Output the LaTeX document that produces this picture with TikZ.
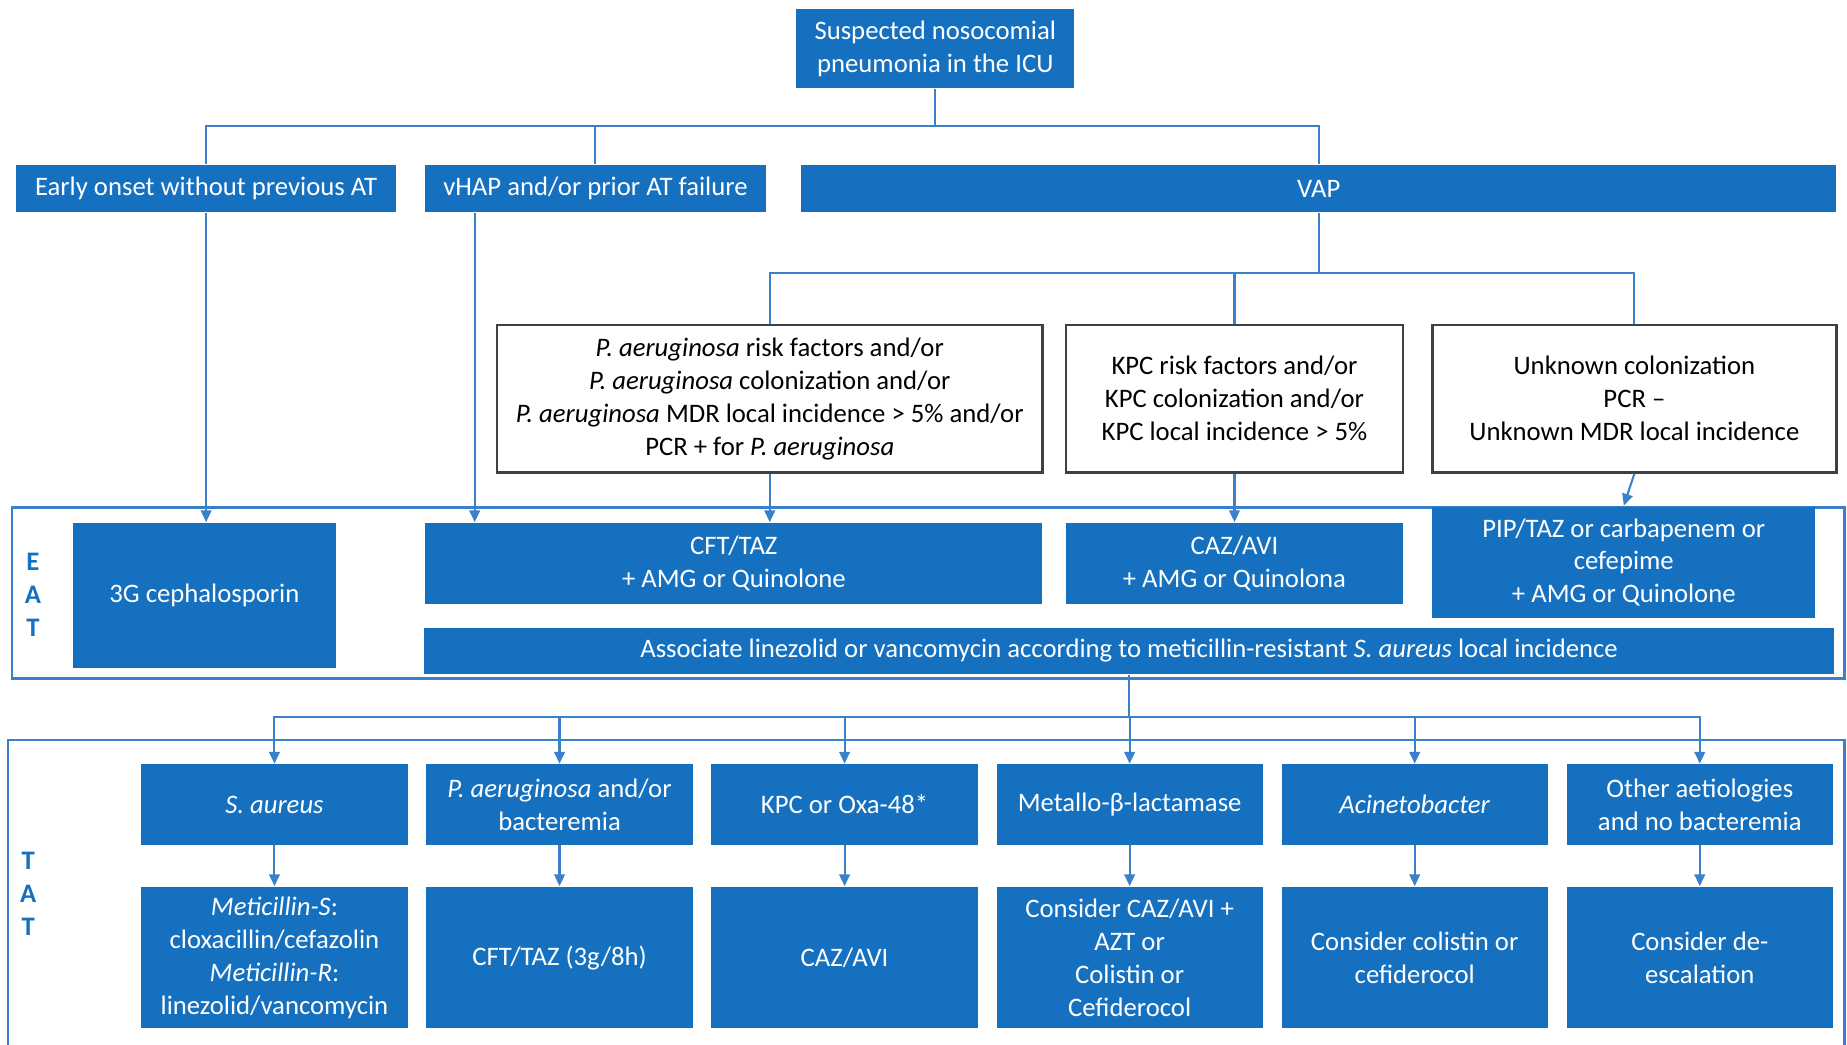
\documentclass[tikz,border=0pt]{standalone}
\usepackage{fontspec}
\setmainfont{Carlito}
\usepackage{tikz}
\usetikzlibrary{arrows.meta}
\definecolor{boxblue}{HTML}{1570BF}
\definecolor{lineblue}{HTML}{3A80CA}
\tikzset{>={Triangle[length=1.0mm,width=0.9mm]}}
\tikzset{%
    txt/.style={font=\fontsize{6.45}{7.95}\selectfont,align=center,inner sep=0pt},
    bluebox/.style={txt,fill=boxblue,text=white},
    whitebox/.style={txt,draw=black!75,line width=0.6pt,fill=white},
    conn/.style={draw=lineblue,line width=0.5pt},
    frame/.style={draw=lineblue,line width=0.6pt},
    sidelabel/.style={txt,text=boxblue,font=\fontsize{6.45}{7.95}\selectfont\bfseries},
    tatbox/.style={bluebox,minimum width=2.26cm,minimum height=0.68cm},
    tatres/.style={bluebox,minimum width=2.26cm,minimum height=1.20cm}
}

\begin{document}
\begin{tikzpicture}
    \fill[white] (0,0) rectangle (15.68,-8.87);
    \useasboundingbox (0,0) rectangle (15.68,-8.87);

    \draw[frame] (0.10,-4.31) rectangle (15.66,-5.76);
    \draw[frame] (0.07,-8.95) |- (15.66,-6.28) -- (15.66,-8.95);
    \node[sidelabel] (eat) at (0.28,-5.05) {E\\A\\T};
    \node[sidelabel] (tat) at (0.24,-7.59) {T\\A\\T};

    \node[bluebox,minimum width=2.36cm,minimum height=0.67cm] (top) at (7.94,-0.415) {Suspected nosocomial\\pneumonia in the ICU};
    \node[bluebox,minimum width=3.22cm,minimum height=0.40cm] (early) at (1.75,-1.60) {Early onset without previous AT};
    \node[bluebox,minimum width=2.89cm,minimum height=0.40cm] (vhap) at (5.055,-1.60) {vHAP and/or prior AT failure};
    \node[bluebox,minimum width=8.79cm,minimum height=0.40cm] (vap) at (11.195,-1.60) {VAP};

    \node[whitebox,minimum width=4.63cm,minimum height=1.25cm] (pa) at (6.535,-3.385) {\textit{P. aeruginosa} risk factors and/or\\\textit{P. aeruginosa} colonization and/or\\\textit{P. aeruginosa} MDR local incidence > 5\% and/or\\PCR + for \textit{P. aeruginosa}};
    \node[whitebox,minimum width=2.86cm,minimum height=1.25cm] (kpc) at (10.48,-3.385) {KPC risk factors and/or\\KPC colonization and/or\\KPC local incidence > 5\%};
    \node[whitebox,minimum width=3.43cm,minimum height=1.25cm] (unk) at (13.875,-3.385) {Unknown colonization\\PCR –\\Unknown MDR local incidence};

    \node[bluebox,minimum width=2.23cm,minimum height=1.23cm] (g3) at (1.735,-5.055) {3G cephalosporin};
    \node[bluebox,minimum width=5.24cm,minimum height=0.69cm] (cft) at (6.23,-4.785) {CFT/TAZ\\+ AMG or Quinolone};
    \node[bluebox,minimum width=2.86cm,minimum height=0.69cm] (caz) at (10.48,-4.785) {CAZ/AVI\\+ AMG or Quinolona};
    \node[bluebox,minimum width=3.25cm,minimum height=0.95cm] (pip) at (13.785,-4.775) {PIP/TAZ or carbapenem or\\cefepime\\+ AMG or Quinolone};
    \node[bluebox,minimum width=11.97cm,minimum height=0.39cm] (assoc) at (9.585,-5.525) {Associate linezolid or vancomycin according to meticillin-resistant \textit{S. aureus} local incidence};

    \node[tatbox] (sa) at (2.33,-6.83) {\textit{S. aureus}};
    \node[tatbox] (pae) at (4.75,-6.83) {\textit{P. aeruginosa} and/or\\bacteremia};
    \node[tatbox] (oxa) at (7.17,-6.83) {KPC or Oxa-48*};
    \node[tatbox] (mbl) at (9.59,-6.83) {Metallo-β-lactamase};
    \node[tatbox] (acb) at (12.01,-6.83) {\textit{Acinetobacter}};
    \node[tatbox] (oth) at (14.43,-6.83) {Other aetiologies\\and no bacteremia};

    \node[tatres] (sar) at (2.33,-8.13) {\textit{Meticillin-S}:\\cloxacillin/cefazolin\\\textit{Meticillin-R}:\\linezolid/vancomycin};
    \node[tatres] (paer) at (4.75,-8.13) {CFT/TAZ (3g/8h)};
    \node[tatres] (oxar) at (7.17,-8.13) {CAZ/AVI};
    \node[tatres] (mblr) at (9.59,-8.13) {Consider CAZ/AVI +\\AZT or\\Colistin or\\Cefiderocol};
    \node[tatres] (acbr) at (12.01,-8.13) {Consider colistin or\\cefiderocol};
    \node[tatres] (othr) at (14.43,-8.13) {Consider de-\\escalation};

    \coordinate (j1) at (7.94,-1.07);
    \coordinate (j2) at (11.195,-2.32);
    \coordinate (j3) at (9.585,-6.09);
    \coordinate (vx) at (4.03,0);

    \draw[conn] (top) -- (j1);
    \draw[conn] (j1) -| (early);
    \draw[conn] (j1) -| (vhap);
    \draw[conn] (j1) -| (vap);
    \draw[conn,->] (early.south) -- (early.south |- g3.north);
    \draw[conn,->] (vhap.south -| vx) -- (cft.north -| vx);
    \draw[conn] (vap) -- (j2);
    \draw[conn] (j2) -| (pa);
    \draw[conn] (j2) -| (kpc);
    \draw[conn] (j2) -| (unk);
    \draw[conn,->] (pa.south) -- (pa.south |- cft.north);
    \draw[conn,->] (kpc) -- (caz);
    \draw[conn,->] (unk.south) -- (pip.north);
    \draw[conn] (assoc) -- (j3);
    \foreach \t in {sa,pae,oxa,mbl,acb,oth}
        \draw[conn,->] (j3) -| (\t);
    \foreach \a/\b in {sa/sar,pae/paer,oxa/oxar,mbl/mblr,acb/acbr,oth/othr}
        \draw[conn,->] (\a) -- (\b);
\end{tikzpicture}
\end{document}
